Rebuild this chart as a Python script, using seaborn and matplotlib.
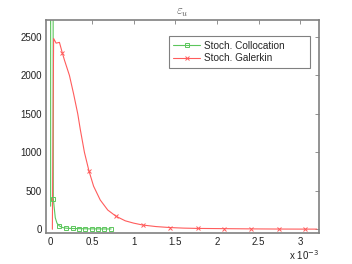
import numpy as np
import pandas as pd
import matplotlib
matplotlib.use("Agg")
import matplotlib.pyplot as plt
from matplotlib.lines import Line2D
from matplotlib.ticker import FuncFormatter
import seaborn as sns

# x values in units of 1e-3
colloc_line_x = [0.004, 0.005, 0.030, 0.036, 0.06, 0.08, 0.11, 0.15, 0.19, 0.27, 0.34, 0.42, 0.50, 0.57, 0.65, 0.73]
colloc_line_y = [300, 9000, 9000, 400, 150, 80, 42, 22, 14, 10, 8, 6, 5, 5, 4, 4]
colloc_mark_x = [0.036, 0.11, 0.19, 0.27, 0.34, 0.42, 0.50, 0.57, 0.65, 0.73]
colloc_mark_y = [400, 42, 14, 10, 8, 6, 5, 5, 4, 4]

galerkin_line_x = [0.025, 0.04, 0.07, 0.11, 0.144, 0.17, 0.23, 0.28, 0.33, 0.36, 0.41, 0.464, 0.52, 0.60, 0.69,
                   0.788, 0.90, 1.00, 1.11, 1.27, 1.44, 1.60, 1.77, 2.09, 2.41, 2.74, 3.06, 3.20]
galerkin_line_y = [0, 2480, 2420, 2430, 2295, 2200, 2000, 1760, 1500, 1300, 1000, 760, 560, 380, 250,
                   170, 110, 80, 55, 35, 22, 15, 11, 8, 5, 3, 2, 2]
galerkin_mark_x = [0.144, 0.464, 0.788, 1.11, 1.44, 1.77, 2.09, 2.41, 2.74, 3.06]
galerkin_mark_y = [2295, 760, 170, 55, 22, 11, 8, 5, 3, 2]

labels = ["Stoch. Collocation", "Stoch. Galerkin"]
green = "#5cc65c"
red = "#ff5c5c"

sns.set_style("white")
plt.rcParams["font.family"] = ["Liberation Sans", "DejaVu Sans"]
plt.rcParams["mathtext.fontset"] = "cm"

fig = plt.figure(figsize=(3.52, 2.64), dpi=100)
ax = fig.add_axes([0.131, 0.117, 0.775, 0.807])

sns.lineplot(x=colloc_line_x, y=colloc_line_y, sort=False, color=green, lw=0.8, ax=ax)
sns.lineplot(x=galerkin_line_x, y=galerkin_line_y, sort=False, color=red, lw=0.8, ax=ax)
ax.plot(colloc_mark_x, colloc_mark_y, ls="none", marker="s", ms=3.2, mfc="none", mec=green, mew=0.7)
ax.plot(galerkin_mark_x, galerkin_mark_y, ls="none", marker="x", ms=3.2, color=red, mew=0.7)

ax.set_xlim(-0.05, 3.225)
ax.set_ylim(-50, 2720)
ax.set_xticks(np.arange(0, 3.01, 0.5))
ax.set_yticks(np.arange(0, 2501, 500))
ax.xaxis.set_major_formatter(FuncFormatter(lambda v, p: f"{v:g}"))

for s in ax.spines.values():
    s.set_color("#808080")
    s.set_linewidth(1.2)
ax.tick_params(direction="in", length=3, width=0.6, color="#808080", labelsize=7,
               top=True, right=True, labelcolor="#222222", pad=3)

ax.set_title(r"$\varepsilon_u$", fontsize=9, color="#555555", pad=4)
ax.text(1.0, -0.07, r"x 10$^{-3}$", transform=ax.transAxes, ha="right", va="top",
        fontsize=7, color="#222222", math_fontfamily="dejavusans")

handles = [Line2D([], [], color=green, lw=0.8, marker="s", ms=3.2, mfc="none", mec=green, mew=0.7),
           Line2D([], [], color=red, lw=0.8, marker="x", ms=3.2, mew=0.7)]
leg = ax.legend(handles, labels, loc="upper left", bbox_to_anchor=(0.45, 0.798, 0.517, 0.127),
                mode="expand", fontsize=7.2, fancybox=False, framealpha=1, edgecolor="#808080",
                handlelength=2.7, borderpad=0.45, labelspacing=0.25, handletextpad=0.35,
                borderaxespad=0)
leg.get_frame().set_linewidth(0.8)

fig.savefig("out.png", dpi=100)
